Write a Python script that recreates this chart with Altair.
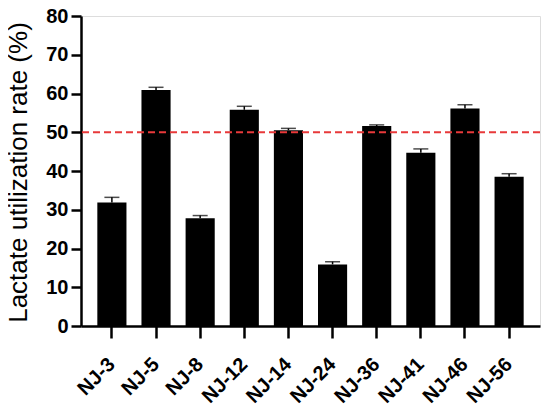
import altair as alt
import pandas as pd

strains = ["NJ-3", "NJ-5", "NJ-8", "NJ-12", "NJ-14", "NJ-24", "NJ-36", "NJ-41", "NJ-46", "NJ-56"]
rates = [31.9, 60.9, 27.8, 55.8, 50.5, 15.9, 51.6, 44.7, 56.1, 38.5]
errors = [1.3, 0.7, 0.7, 0.9, 0.5, 0.7, 0.3, 1.0, 1.0, 0.8]
threshold = [50]
y_ticks = [0, 10, 20, 30, 40, 50, 60, 70, 80]

df = pd.DataFrame({"strain": strains, "rate": rates, "err": errors})
df["hi"] = df["rate"] + df["err"]
thr = pd.DataFrame({"t": threshold})

FONT = "Liberation Sans"

x_axis = alt.Axis(labelAngle=-45, labelFont=FONT, labelFontSize=20, labelFontWeight="bold",
                  labelColor="black", tickSize=12, tickWidth=2.5, tickColor="black",
                  domainColor="black", domainWidth=2.5, labelPadding=23,
                  labelAlign="right", labelBaseline="middle", labelOverlap=False)
y_axis = alt.Axis(values=y_ticks, tickCount=20, labelFont=FONT, labelFontSize=20, labelFontWeight="bold",
                  labelColor="black", tickSize=10, tickWidth=2.5, tickColor="black",
                  domainColor="black", domainWidth=2.5, labelPadding=3, grid=False,
                  labelOverlap=False, labelFlush=False,
                  titleFont=FONT, titleFontSize=26, titleFontWeight="normal",
                  titleColor="black", titleX=-50, titleY=156, titleAngle=270,
                  titleAlign="center", titleBaseline="bottom")

y_scale = alt.Scale(domain=[0, 80], nice=False)
x = alt.X("strain:N", sort=strains, title=None,
          scale=alt.Scale(paddingInner=0.34, paddingOuter=0.37), axis=x_axis)
ttl = "Lactate utilization rate (%)"

base = alt.Chart(df)
bars = base.mark_bar(color="black").encode(
    x=x, y=alt.Y("rate:Q", title=ttl, scale=y_scale, axis=y_axis))
err = base.mark_rule(color="black", strokeWidth=1.5).encode(
    x=x, y=alt.Y("rate:Q", title=ttl, scale=y_scale, axis=y_axis), y2="hi:Q")
cap = base.mark_tick(color="black", thickness=1.5, size=15).encode(
    x=x, y=alt.Y("hi:Q", title=ttl, scale=y_scale, axis=y_axis))
line = alt.Chart(thr).mark_rule(color="#e8393a", strokeDash=[7, 4], strokeWidth=2).encode(
    y=alt.Y("t:Q", title=ttl, scale=y_scale, axis=y_axis))

chart = alt.layer(bars, err, cap, line).properties(
    width=459, height=310,
    autosize=alt.AutoSizeParams(type="none"),
    padding={"left": 73, "top": 8, "right": 2, "bottom": 80},
).configure_view(stroke=None).configure(background="white")

chart.save("out.html", embed_options={"renderer": "svg", "actions": False})
